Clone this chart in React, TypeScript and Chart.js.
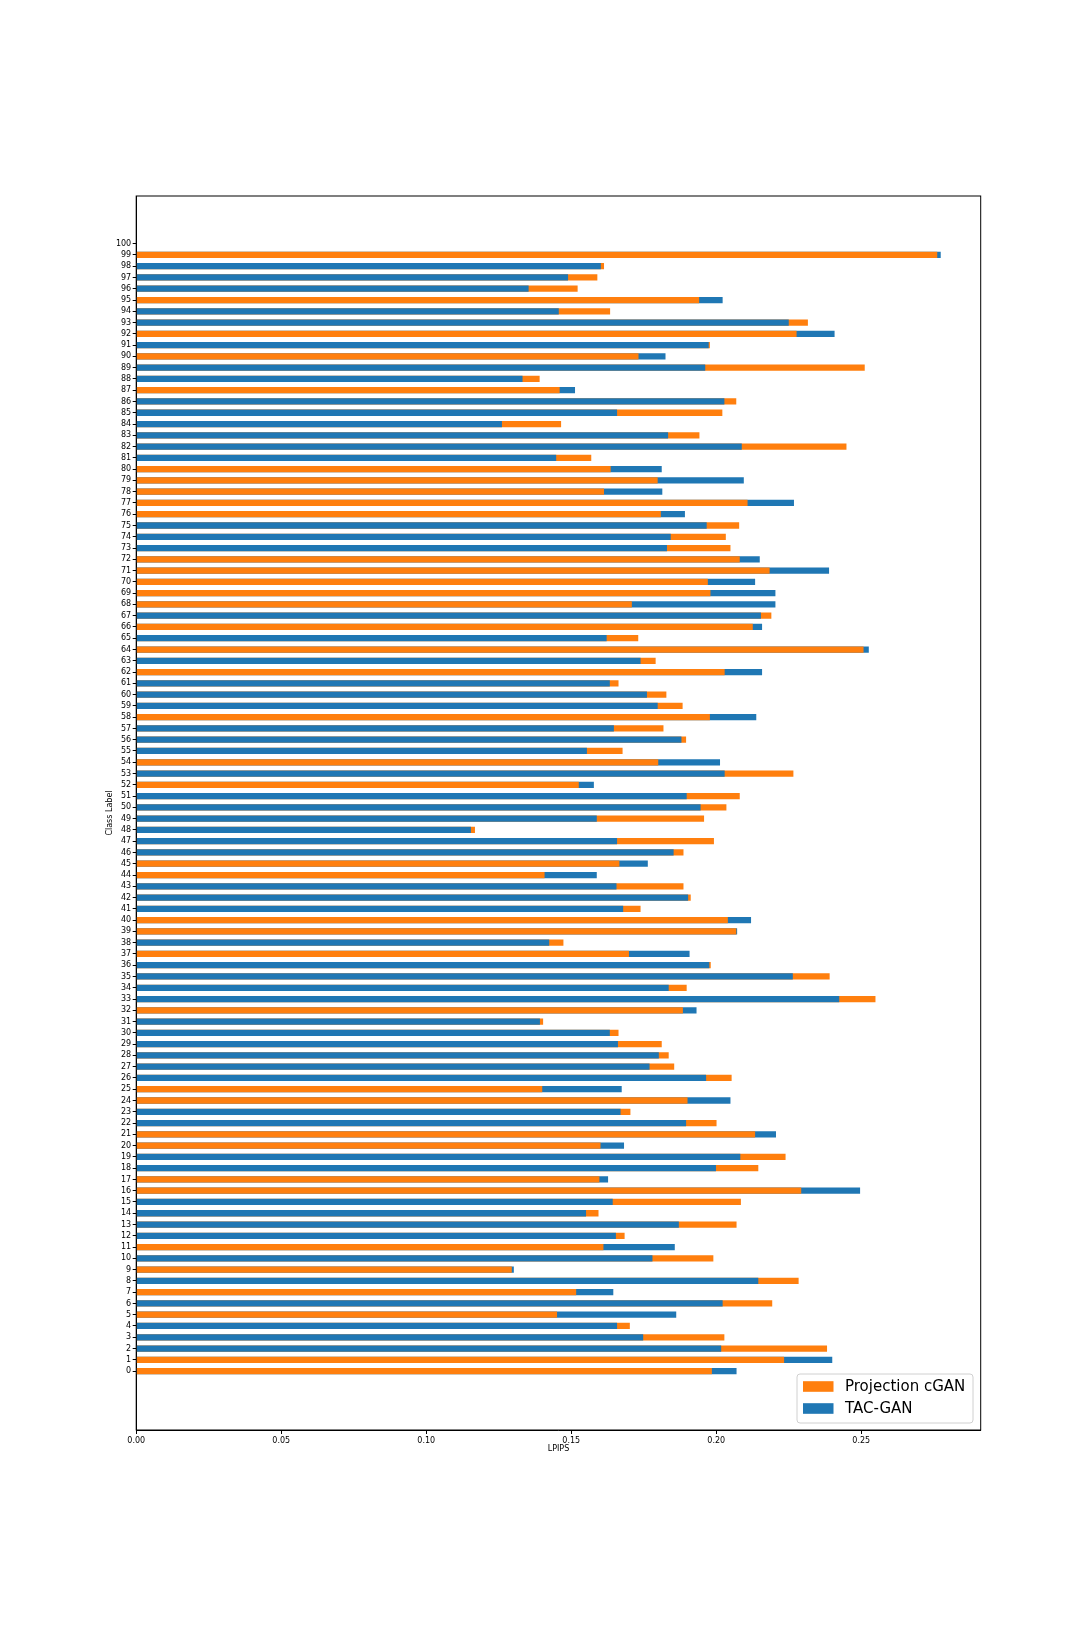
import { useEffect, useRef } from 'react';
import { Chart, registerables } from 'chart.js';

Chart.register(...registerables);

// class ids 0..99 (tick 100 is shown but has no bar)
const classIds = Array.from({ length: 100 }, (_, i) => i);
const yTicks = Array.from({ length: 101 }, (_, i) => i);
const xTicks = [0, 0.05, 0.1, 0.15, 0.2, 0.25];

const projection = [
  0.1984, 0.2233, 0.2381, 0.2027, 0.1701, 0.1450, 0.2192, 0.1516, 0.2283, 0.1294,
  0.1989, 0.1610, 0.1683, 0.2069, 0.1593, 0.2084, 0.2292, 0.1596, 0.2144, 0.2238,
  0.1600, 0.2133, 0.2000, 0.1703, 0.1900, 0.1399, 0.2052, 0.1854, 0.1835, 0.1811,
  0.1662, 0.1402, 0.1884, 0.2548, 0.1897, 0.2390, 0.1980, 0.1698, 0.1472, 0.2068,
  0.2039, 0.1738, 0.1911, 0.1886, 0.1407, 0.1665, 0.1886, 0.1991, 0.1167, 0.1957,
  0.2034, 0.2080, 0.1525, 0.2265, 0.1799, 0.1676, 0.1895, 0.1817, 0.1977, 0.1883,
  0.1827, 0.1662, 0.2028, 0.1790, 0.2507, 0.1730, 0.2125, 0.2189, 0.1708, 0.1979,
  0.1970, 0.2183, 0.2080, 0.2048, 0.2032, 0.2078, 0.1808, 0.2107, 0.1612, 0.1797,
  0.1635, 0.1568, 0.2448, 0.1941, 0.1464, 0.2020, 0.2068, 0.1459, 0.1390, 0.2511,
  0.1731, 0.1977, 0.2276, 0.2315, 0.1633, 0.1940, 0.1521, 0.1589, 0.1612, 0.2761,
];

const tacGan = [
  0.2069, 0.2399, 0.2016, 0.1747, 0.1657, 0.1861, 0.2021, 0.1644, 0.2144, 0.1301,
  0.1779, 0.1856, 0.1653, 0.1870, 0.1550, 0.1642, 0.2495, 0.1626, 0.1998, 0.2082,
  0.1681, 0.2205, 0.1895, 0.1669, 0.2048, 0.1673, 0.1964, 0.1769, 0.1801, 0.1660,
  0.1632, 0.1391, 0.1931, 0.2423, 0.1835, 0.2263, 0.1975, 0.1907, 0.1423, 0.2071,
  0.2119, 0.1678, 0.1902, 0.1655, 0.1587, 0.1763, 0.1852, 0.1657, 0.1153, 0.1587,
  0.1945, 0.1897, 0.1577, 0.2028, 0.2012, 0.1553, 0.1879, 0.1646, 0.2137, 0.1797,
  0.1760, 0.1632, 0.2157, 0.1738, 0.2525, 0.1621, 0.2157, 0.2153, 0.2203, 0.2203,
  0.2133, 0.2388, 0.2149, 0.1829, 0.1842, 0.1966, 0.1891, 0.2267, 0.1813, 0.2094,
  0.1811, 0.1447, 0.2087, 0.1833, 0.1260, 0.1657, 0.2027, 0.1512, 0.1331, 0.1961,
  0.1824, 0.1973, 0.2407, 0.2249, 0.1456, 0.2021, 0.1352, 0.1488, 0.1601, 0.2773,
];

const ORANGE = '#ff7f0e';
const BLUE = '#1f77b4';
const FONT = '"DejaVu Sans", sans-serif';

// legend drawn inside the axes, lower right, like matplotlib
const legendPlugin = {
  id: 'mplLegend',
  afterDraw(chart: any) {
    const { ctx, chartArea } = chart;
    ctx.save();
    // top + right spines
    ctx.strokeStyle = '#000';
    ctx.lineWidth = 1;
    ctx.strokeRect(chartArea.left, chartArea.top, chartArea.right - chartArea.left, chartArea.bottom - chartArea.top);

    const x = 797, y = 1374, w = 176, h = 49;
    ctx.fillStyle = 'rgba(255,255,255,0.8)';
    ctx.strokeStyle = '#d0d0d0';
    ctx.beginPath();
    ctx.roundRect(x, y, w, h, 3);
    ctx.fill();
    ctx.stroke();

    const items = [
      { label: 'Projection cGAN', color: ORANGE },
      { label: 'TAC-GAN', color: BLUE },
    ];
    ctx.font = `15px ${FONT}`;
    ctx.textBaseline = 'middle';
    items.forEach((it, i) => {
      const cy = 1386.5 + i * 22;
      ctx.fillStyle = it.color;
      ctx.fillRect(803, cy - 5.3, 30.5, 10.6);
      ctx.fillStyle = '#000';
      ctx.fillText(it.label, 845, cy + 0.5);
    });
    ctx.restore();
  },
};

export default function App() {
  const canvasRef = useRef<HTMLCanvasElement>(null);

  useEffect(() => {
    if (!canvasRef.current) return;

    // longer bar behind, shorter bar in front
    const backVals = classIds.map((i) => Math.max(projection[i], tacGan[i]));
    const backCols = classIds.map((i) => (projection[i] >= tacGan[i] ? ORANGE : BLUE));
    const frontVals = classIds.map((i) => Math.min(projection[i], tacGan[i]));
    const frontCols = classIds.map((i) => (projection[i] >= tacGan[i] ? BLUE : ORANGE));

    const chart = new Chart(canvasRef.current, {
      type: 'bar',
      data: {
        datasets: [
          {
            label: 'back',
            data: classIds.map((i) => ({ x: backVals[i], y: i })),
            backgroundColor: backCols,
            borderWidth: 0,
            grouped: false,
            barThickness: 5.6,
            order: 2,
          },
          {
            label: 'front',
            data: classIds.map((i) => ({ x: frontVals[i], y: i })),
            backgroundColor: frontCols,
            borderWidth: 0,
            grouped: false,
            barThickness: 5.6,
            order: 1,
          },
        ],
      },
      options: {
        indexAxis: 'y',
        responsive: true,
        maintainAspectRatio: false,
        animation: false,
        layout: { padding: { top: 196, right: 109.3, left: 0, bottom: 0 } },
        plugins: {
          legend: { display: false },
          tooltip: { enabled: false },
        },
        scales: {
          x: {
            type: 'linear',
            min: 0,
            max: 0.2912,
            offset: false,
            afterBuildTicks: (scale: any) => {
              scale.ticks = xTicks.map((v) => ({ value: v }));
            },
            afterFit: (scale: any) => {
              scale.height = 205;
            },
            grid: { offset: false, drawOnChartArea: false, drawTicks: true, tickLength: 4, color: '#000' },
            border: { color: '#000', width: 1 },
            ticks: {
              color: '#000',
              padding: 2,
              maxRotation: 0,
              font: { family: FONT, size: 8 },
              callback: (v: any) => Number(v).toFixed(2),
            },
            title: {
              display: true,
              text: 'LPIPS',
              color: '#000',
              font: { family: FONT, size: 8 },
              padding: { top: 0, bottom: 181 },
            },
          },
          y: {
            type: 'linear',
            min: -5.225,
            max: 104.225,
            offset: false,
            afterBuildTicks: (scale: any) => {
              scale.ticks = yTicks.map((v) => ({ value: v }));
            },
            afterFit: (scale: any) => {
              scale.width = 136.2;
            },
            grid: { offset: false, drawOnChartArea: false, drawTicks: true, tickLength: 3.5, color: '#000' },
            border: { color: '#000', width: 1 },
            ticks: {
              color: '#000',
              padding: 1.5,
              autoSkip: false,
              font: { family: FONT, size: 8 },
              callback: (v: any) => String(v),
            },
            title: {
              display: true,
              text: 'Class Label',
              color: '#000',
              font: { family: FONT, size: 8 },
              padding: { top: 105, bottom: 0 },
            },
          },
        },
      },
      plugins: [legendPlugin],
    });

    return () => chart.destroy();
  }, []);

  return (
    <div style={{ position: 'absolute', left: 0, top: 0, width: 1090, height: 1635, background: '#fff' }}>
      <canvas ref={canvasRef}></canvas>
    </div>
  );
}
